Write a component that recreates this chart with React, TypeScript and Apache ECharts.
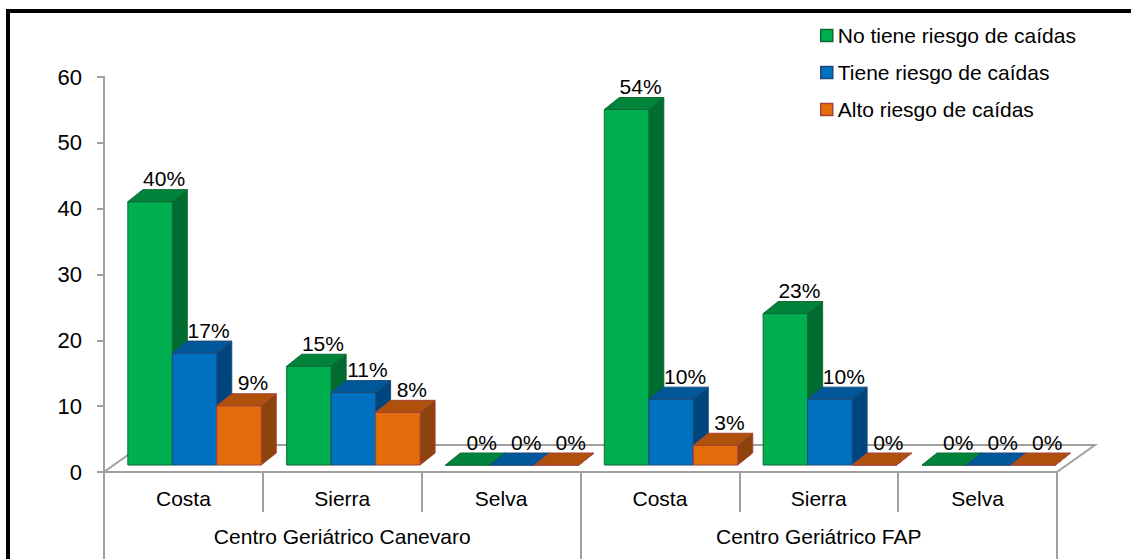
import React, { useEffect, useRef } from "react";
import * as echarts from "echarts";

const categories = ["Costa", "Sierra", "Selva", "Costa", "Sierra", "Selva"];
const groups = ["Centro Geriátrico Canevaro", "Centro Geriátrico FAP"];
const seriesNames = [
  "No tiene riesgo de caídas",
  "Tiene riesgo de caídas",
  "Alto riesgo de caídas",
];
const noRiesgo = [40, 15, 0, 54, 23, 0];
const tieneRiesgo = [17, 11, 0, 10, 10, 0];
const altoRiesgo = [9, 8, 0, 3, 0, 0];
const yMin = 0;
const yMax = 60;
const yStep = 10;

const palettes = [
  { front: "#00B050", top: "#00843B", side: "#006C30", border: "#0D6A32" },
  { front: "#0070C0", top: "#00589A", side: "#00467E", border: "#1B4A7A" },
  { front: "#E46C0A", top: "#B0510B", side: "#8F430C", border: "#A3433A" },
];

const FONT = "'Liberation Sans', Arial, sans-serif";
const FS = 21;
const AXIS_GRAY = "#A0A0A0";

function makeBarRender(sIdx: number) {
  return (params: any, api: any) => {
    const cat = api.value(0);
    const val = api.value(1);
    const base = api.coord([cat, 0]);
    const topPt = api.coord([cat, val]);
    const band = api.size([1, 0])[0];
    const bw = band * 0.28;
    const x0 = base[0] - 1.5 * bw + band * 0.07 + sIdx * bw;
    const yb = base[1] - 7;
    const yt = topPt[1] - 7;
    const dx = 15;
    const dy = -12;
    const p = palettes[sIdx];
    const stroke = { stroke: p.border, lineWidth: 1 };
    return {
      type: "group",
      children: [
        {
          type: "polygon",
          shape: {
            points: [
              [x0 + bw, yt],
              [x0 + bw + dx, yt + dy],
              [x0 + bw + dx, yb + dy],
              [x0 + bw, yb],
            ],
          },
          style: { fill: p.side, ...stroke },
        },
        {
          type: "rect",
          shape: { x: x0, y: yt, width: bw, height: yb - yt },
          style: { fill: p.front, ...stroke },
        },
        {
          type: "polygon",
          shape: {
            points: [
              [x0, yt],
              [x0 + dx, yt + dy],
              [x0 + bw + dx, yt + dy],
              [x0 + bw, yt],
            ],
          },
          style: { fill: p.top, ...stroke },
        },
        {
          type: "text",
          x: x0 + bw / 2 + 14,
          y: yt - 23,
          style: {
            text: val + "%",
            fill: "#000",
            font: `${FS}px ${FONT}`,
            align: "center",
            verticalAlign: "middle",
          },
        },
      ],
    };
  };
}

function floorRender(params: any, api: any) {
  const cs = params.coordSys;
  const fy = cs.y + cs.height;
  const ddx = 38;
  const ddy = -27;
  return {
    type: "polyline",
    shape: {
      points: [
        [cs.x + cs.width, fy],
        [cs.x + cs.width + ddx, fy + ddy],
        [cs.x + ddx, fy + ddy],
        [cs.x, fy],
      ],
    },
    style: { fill: "none", stroke: AXIS_GRAY, lineWidth: 2 },
  };
}

export default function App() {
  const ref = useRef<HTMLDivElement>(null);
  useEffect(() => {
    if (!ref.current) return;
    const chart = echarts.init(ref.current, undefined, { renderer: "svg" });
    const seriesData = [noRiesgo, tieneRiesgo, altoRiesgo];
    chart.setOption({
      animation: false,
      backgroundColor: "#fff",
      textStyle: { fontFamily: FONT },
      grid: { left: 104, right: 74, top: 77, bottom: 87, containLabel: false },
      legend: {
        orient: "vertical",
        left: 820,
        top: 25,
        padding: 0,
        itemWidth: 12,
        itemHeight: 12,
        itemGap: 16,
        icon: "rect",
        textStyle: { fontSize: FS, color: "#000", fontFamily: FONT },
        data: seriesNames.map((n, i) => ({
          name: n,
          itemStyle: {
            color: palettes[i].front,
            borderColor: palettes[i].border,
            borderWidth: 1.5,
          },
        })),
      },
      xAxis: [
        {
          type: "category",
          position: "bottom",
          data: categories,
          axisLine: { show: true, lineStyle: { color: AXIS_GRAY, width: 2 } },
          axisTick: {
            show: true,
            interval: 0,
            length: 40,
            lineStyle: { color: AXIS_GRAY, width: 2 },
          },
          axisLabel: {
            interval: 0,
            margin: 16,
            fontSize: FS,
            color: "#000",
            fontFamily: FONT,
          },
        },
        {
          type: "category",
          position: "bottom",
          data: groups,
          axisLine: { show: false },
          axisTick: {
            show: true,
            interval: 0,
            length: 90,
            lineStyle: { color: AXIS_GRAY, width: 2 },
          },
          axisLabel: {
            interval: 0,
            margin: 54,
            fontSize: FS,
            color: "#000",
            fontFamily: FONT,
          },
        },
      ],
      yAxis: {
        type: "value",
        min: yMin,
        max: yMax,
        interval: yStep,
        axisLine: { show: true, lineStyle: { color: AXIS_GRAY, width: 2 } },
        axisTick: { show: true, length: 7, lineStyle: { color: AXIS_GRAY, width: 2 } },
        splitLine: { show: false },
        axisLabel: { margin: 22, fontSize: 22, color: "#000", fontFamily: FONT },
      },
      graphic: [
        {
          type: "rect",
          silent: true,
          z: 100,
          shape: { x: 8, y: 11, width: 1400, height: 900 },
          style: { fill: "none", stroke: "#000", lineWidth: 4 },
        },
      ],
      series: [
        {
          type: "custom",
          name: "floor",
          xAxisIndex: 0,
          yAxisIndex: 0,
          z: 1,
          silent: true,
          renderItem: floorRender,
          data: [[0, 0]],
          encode: { x: 0, y: 1 },
        },
        ...seriesNames.map((name, sIdx) => ({
          type: "custom",
          name,
          xAxisIndex: 0,
          yAxisIndex: 0,
          z: 2 + sIdx,
          itemStyle: { color: palettes[sIdx].front, borderColor: palettes[sIdx].border },
          renderItem: makeBarRender(sIdx),
          encode: { x: 0, y: 1 },
          data: seriesData[sIdx].map((v, i) => [i, v]),
        })),
      ],
    });
    return () => chart.dispose();
  }, []);
  return (
    <div
      ref={ref}
      style={{ position: "fixed", left: 0, top: 0, width: 1131, height: 559 }}
    />
  );
}
